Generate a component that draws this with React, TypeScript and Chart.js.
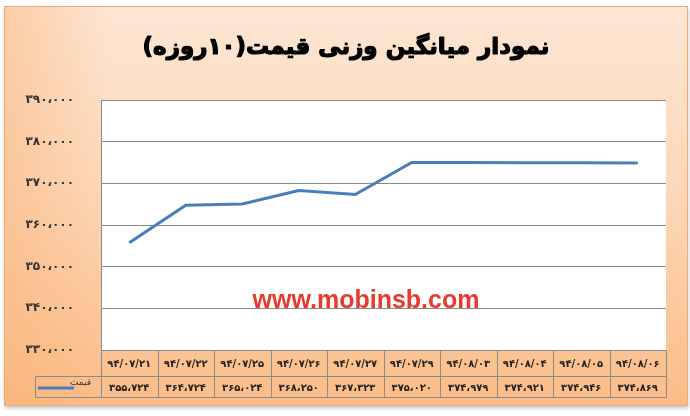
import React, { useEffect, useRef } from "react";
import { Chart, registerables } from "chart.js";

Chart.register(...registerables);

const TITLE = "نمودار میانگین وزنی قیمت(۱۰روزه)";
const SERIES_NAME = "قیمت";
const WATERMARK = "www.mobinsb.com";

const categories = [
  "۹۴/۰۷/۲۱",
  "۹۴/۰۷/۲۲",
  "۹۴/۰۷/۲۵",
  "۹۴/۰۷/۲۶",
  "۹۴/۰۷/۲۷",
  "۹۴/۰۷/۲۹",
  "۹۴/۰۸/۰۳",
  "۹۴/۰۸/۰۴",
  "۹۴/۰۸/۰۵",
  "۹۴/۰۸/۰۶",
];

const prices = [355724, 364724, 365024, 368250, 367323, 375020, 374979, 374921, 374946, 374869];

const Y_MIN = 330000;
const Y_MAX = 390000;
const Y_STEP = 10000;

const FA_DIGITS = ["۰", "۱", "۲", "۳", "۴", "۵", "۶", "۷", "۸", "۹"];
function toFa(n: number): string {
  const s = Math.round(n).toString();
  const withSep = s.replace(/\B(?=(\d{3})+(?!\d))/g, "،");
  return withSep.replace(/\d/g, (d) => FA_DIGITS[Number(d)]);
}

const LINE_COLOR = "#4a7ebb";
const GRID_COLOR = "#8a8a8a";
const FA_FONT = '"DejaVu Sans", "Noto Sans", sans-serif';

const framePlugin = {
  id: "frame",
  beforeDraw(chart: any) {
    const { ctx, width, height, chartArea } = chart;
    ctx.save();
    ctx.fillStyle = "#ffffff";
    ctx.fillRect(0, 0, width, height);

    ctx.shadowColor = "rgba(0,0,0,0.25)";
    ctx.shadowBlur = 4;
    ctx.shadowOffsetY = 2;
    const g = ctx.createLinearGradient(0, 6, 0, 405);
    g.addColorStop(0, "#fde6d3");
    g.addColorStop(0.45, "#fdd8ba");
    g.addColorStop(0.85, "#fbc495");
    g.addColorStop(1, "#fbbc88");
    ctx.fillStyle = g;
    ctx.fillRect(4.5, 6.5, 683, 399);
    ctx.shadowColor = "transparent";

    const h = ctx.createLinearGradient(4, 0, 110, 0);
    h.addColorStop(0, "rgba(249,175,115,0.45)");
    h.addColorStop(1, "rgba(249,175,115,0)");
    ctx.fillStyle = h;
    ctx.fillRect(4.5, 6.5, 106, 399);

    ctx.strokeStyle = "#f1ab72";
    ctx.lineWidth = 1;
    ctx.strokeRect(4.5, 6.5, 683, 399);

    ctx.fillStyle = "#ffffff";
    ctx.fillRect(chartArea.left, chartArea.top, chartArea.right - chartArea.left, chartArea.bottom - chartArea.top);

    // title
    ctx.fillStyle = "#000000";
    ctx.strokeStyle = "#000000";
    ctx.lineWidth = 1.2;
    ctx.lineJoin = "round";
    ctx.font = `bold 23px ${FA_FONT}`;
    (ctx as any).direction = "rtl";
    ctx.textAlign = "center";
    ctx.textBaseline = "middle";
    ctx.fillText(TITLE, 346, 48);
    ctx.strokeText(TITLE, 346, 48);
    ctx.restore();
  },
  afterDatasetsDraw(chart: any) {
    const { ctx } = chart;
    ctx.save();
    ctx.fillStyle = "#e8392c";
    ctx.font = 'bold 25px "Liberation Sans", Arial, sans-serif';
    ctx.textAlign = "center";
    ctx.textBaseline = "alphabetic";
    ctx.fillText(WATERMARK, 366, 308);
    ctx.restore();
  },
  afterDraw(chart: any) {
    const { ctx, chartArea } = chart;
    const xs = chart.scales.x;
    const n = categories.length;
    const colW = (chartArea.right - chartArea.left) / n;
    const top = Math.round(chartArea.bottom) + 0.5;
    const r1 = top + 26;
    const r2 = r1 + 21;
    const legendLeft = 35.5;
    const left = Math.round(chartArea.left) + 0.5;
    const right = Math.round(chartArea.right) + 0.5;

    ctx.save();
    ctx.strokeStyle = GRID_COLOR;
    ctx.lineWidth = 1;
    ctx.beginPath();
    ctx.moveTo(left, top);
    ctx.lineTo(right, top);
    ctx.moveTo(legendLeft, r1);
    ctx.lineTo(right, r1);
    ctx.moveTo(legendLeft, r2);
    ctx.lineTo(right, r2);
    for (let i = 0; i <= n; i++) {
      const xx = Math.round(chartArea.left + i * colW) + 0.5;
      ctx.moveTo(xx, top);
      ctx.lineTo(xx, r2);
    }
    ctx.moveTo(legendLeft, r1);
    ctx.lineTo(legendLeft, r2);
    ctx.stroke();

    ctx.fillStyle = "#222222";
    ctx.font = `bold 10px ${FA_FONT}`;
    ctx.textAlign = "center";
    ctx.textBaseline = "middle";
    for (let i = 0; i < n; i++) {
      const cx = xs.getPixelForValue(i);
      ctx.fillText(categories[i], cx, (top + r1) / 2 + 1);
      ctx.fillText(toFa(prices[i]), cx, (r1 + r2) / 2 + 1);
    }

    // legend key
    ctx.strokeStyle = LINE_COLOR;
    ctx.lineWidth = 3;
    ctx.beginPath();
    ctx.moveTo(38, 388);
    ctx.lineTo(74, 388);
    ctx.stroke();
    ctx.fillStyle = "#333333";
    ctx.font = `9px ${FA_FONT}`;
    (ctx as any).direction = "rtl";
    ctx.textAlign = "right";
    ctx.textBaseline = "middle";
    ctx.fillText(SERIES_NAME, 91, 383);
    ctx.restore();
  },
};

export default function App() {
  const ref = useRef<HTMLCanvasElement | null>(null);
  useEffect(() => {
    if (!ref.current) return;
    const chart = new Chart(ref.current, {
      type: "line",
      data: {
        labels: categories,
        datasets: [
          {
            label: SERIES_NAME,
            data: prices,
            borderColor: LINE_COLOR,
            backgroundColor: LINE_COLOR,
            borderWidth: 3,
            pointRadius: 0,
            tension: 0,
            fill: false,
          },
        ],
      },
      options: {
        animation: false,
        responsive: false,
        maintainAspectRatio: false,
        layout: { padding: { left: 0, top: 100, right: 24, bottom: 66 } },
        plugins: {
          legend: { display: false },
          tooltip: { enabled: false },
          title: { display: false },
        },
        scales: {
          x: { display: false, offset: true },
          y: {
            min: Y_MIN,
            max: Y_MAX,
            ticks: {
              stepSize: Y_STEP,
              padding: 27,
              color: "#333333",
              font: { family: FA_FONT, weight: "bold", size: 12 },
              callback: (v: any) => toFa(Number(v)),
            },
            grid: { color: GRID_COLOR, drawTicks: false, lineWidth: 1 },
            border: { display: true, color: GRID_COLOR },
            afterFit: (s: any) => {
              s.width = 101;
            },
          },
        },
      },
      plugins: [framePlugin],
    } as any);
    return () => chart.destroy();
  }, []);
  return (
    <div style={{ position: "absolute", left: 0, top: 0, width: 690, height: 416 }}>
      <canvas ref={ref} width={690} height={416} style={{ display: "block", width: 690, height: 416 }} />
    </div>
  );
}
